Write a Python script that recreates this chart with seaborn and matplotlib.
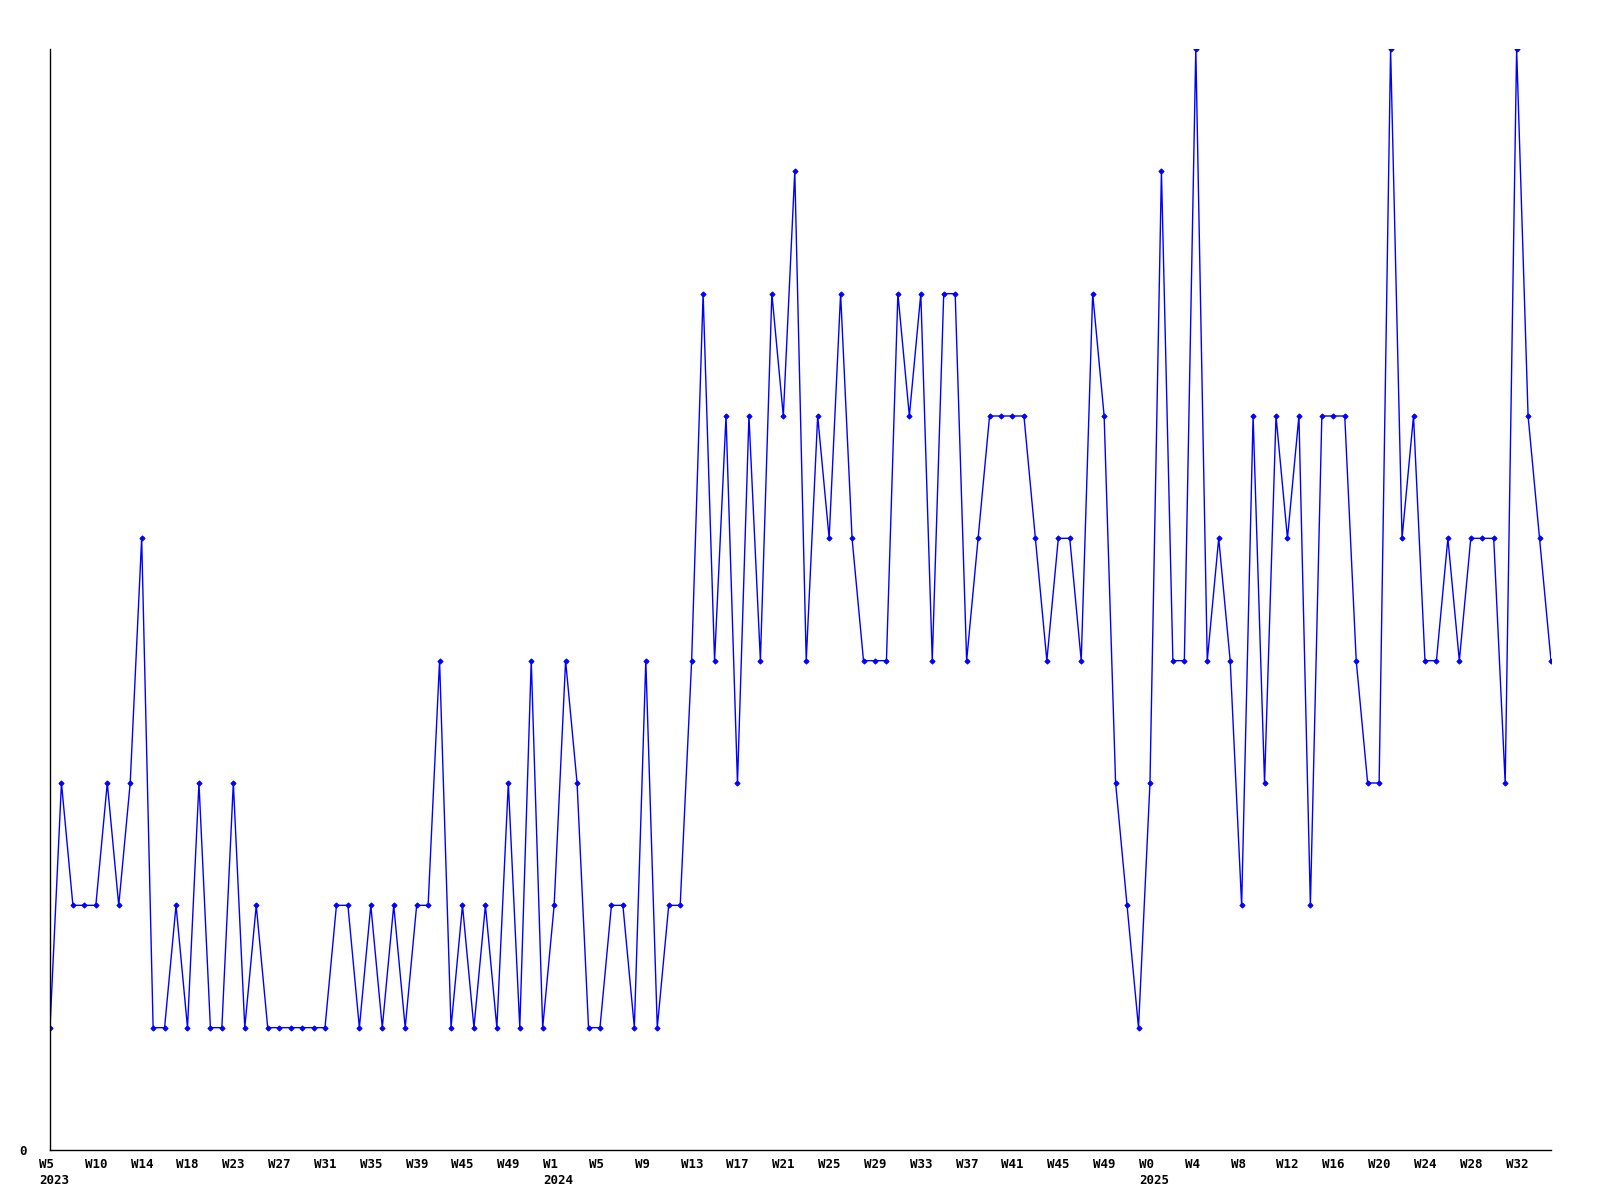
import matplotlib
matplotlib.use("Agg")
import matplotlib.pyplot as plt
import seaborn as sns
import pandas as pd

# weekly values, W5 2023 .. W35 2025
values = [1, 3, 2, 2, 2, 3, 2, 3, 5, 1, 1, 2, 1, 3, 1, 1, 3, 1, 2, 1,
          1, 1, 1, 1, 1, 2, 2, 1, 2, 1, 2, 1, 2, 2, 4, 1, 2, 1, 2, 1,
          3, 1, 4, 1, 2, 4, 3, 1, 1, 2, 2, 1, 4, 1, 2, 2, 4, 7, 4, 6,
          3, 6, 4, 7, 6, 8, 4, 6, 5, 7, 5, 4, 4, 4, 7, 6, 7, 4, 7, 7,
          4, 5, 6, 6, 6, 6, 5, 4, 5, 5, 4, 7, 6, 3, 2, 1, 3, 8, 4, 4,
          9, 4, 5, 4, 2, 6, 3, 6, 5, 6, 2, 6, 6, 6, 4, 3, 3, 9, 5, 6,
          4, 4, 5, 4, 5, 5, 5, 3, 9, 6, 5, 4]

week_labels = ["W5", "W10", "W14", "W18", "W23", "W27", "W31", "W35", "W39",
               "W45", "W49", "W1", "W5", "W9", "W13", "W17", "W21", "W25",
               "W29", "W33", "W37", "W41", "W45", "W49", "W0", "W4", "W8",
               "W12", "W16", "W20", "W24", "W28", "W32"]
year_labels = {0: "2023", 11: "2024", 24: "2025"}
tick_step = 4

df = pd.DataFrame({"idx": range(len(values)), "value": values})

sns.set_theme(style="white")
plt.rcParams["font.family"] = ["DejaVu Sans Mono", "DejaVu Sans"]

fig = plt.figure(figsize=(16, 12), dpi=100)
ax = fig.add_axes([50 / 1600, 1 - 1150 / 1200, 1501 / 1600, 1101 / 1200])

sns.lineplot(data=df, x="idx", y="value", ax=ax, color="#0000ff",
             linewidth=1.0, marker="D", markersize=2.6,
             markeredgecolor="#0000ff", markerfacecolor="#0000ff")

ax.set_xlim(0, len(values) - 1)
ax.set_ylim(0, 9)

ticks = list(range(0, len(values), tick_step))[:len(week_labels)]
ax.set_xticks(ticks)
ax.set_xticklabels([])
for i, (t, w) in enumerate(zip(ticks, week_labels)):
    txt = w + ("\n" + year_labels[i] if i in year_labels else "")
    ax.annotate(txt, xy=(t, 0), xycoords=("data", "axes fraction"),
                xytext=(-11, -8), textcoords="offset pixels",
                ha="left", va="top", fontsize=9, fontweight="bold",
                linespacing=1.25, annotation_clip=False, color="black")

ax.set_yticks([0])
ax.set_yticklabels(["0"], fontsize=9, fontweight="bold")
ax.tick_params(axis="x", length=0)
ax.tick_params(axis="y", length=0, pad=17, colors="black")

ax.set_xlabel("")
ax.set_ylabel("")
for s in ["top", "right"]:
    ax.spines[s].set_visible(False)
for s in ["left", "bottom"]:
    ax.spines[s].set_color("black")
    ax.spines[s].set_linewidth(1.0)
ax.grid(False)

fig.savefig("out.png", dpi=100, facecolor="white")
